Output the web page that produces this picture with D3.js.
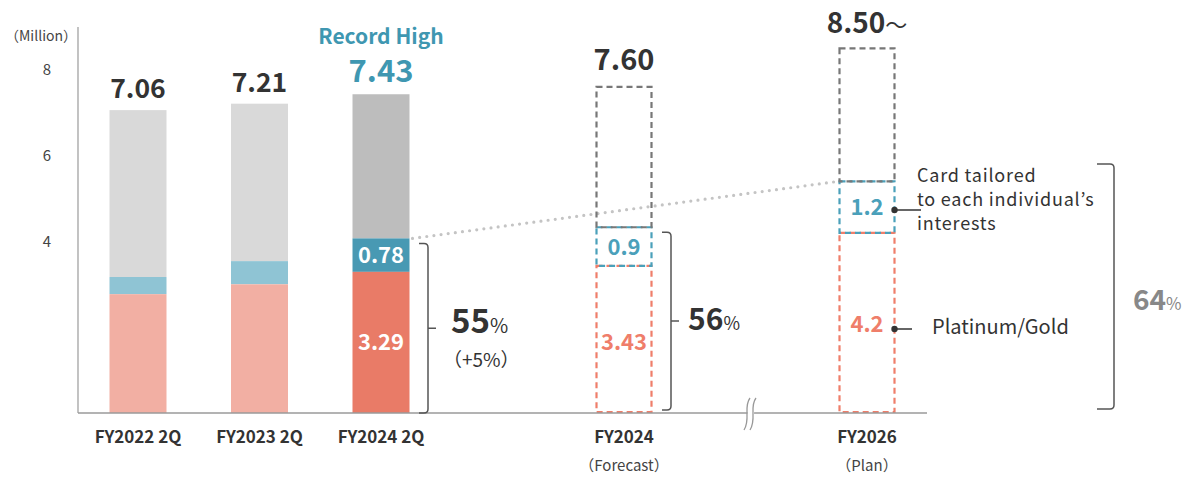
<!DOCTYPE html>
<html>
<head>
<meta charset="utf-8">
<script src="https://cdn.jsdelivr.net/npm/d3@7"></script>
<style>
  html, body { margin: 0; padding: 0; background: #fff; }
  svg { display: block; font-family: "Noto Sans CJK JP", "Noto Sans", sans-serif; }
</style>
</head>
<body>
<svg id="chart" width="1195" height="478"></svg>
<script>
// ---- data (millions of cards) ----
const categories   = ["FY2022 2Q", "FY2023 2Q", "FY2024 2Q", "FY2024", "FY2026"];
const subLabels    = ["", "", "", "（Forecast）", "（Plan）"];
const slotKeys     = ["FY2022 2Q", "FY2023 2Q", "FY2024 2Q", "gapA", "FY2024", "gapB", "FY2026"];
const totals       = [7.06, 7.21, 7.43, 7.60, 8.50];
const totalLabels  = ["7.06", "7.21", "7.43", "7.60", "8.50"];
const totalSuffix  = ["", "", "", "", "～"];
const platinumGold = [2.77, 3.00, 3.29, 3.43, 4.2];
const tailored     = [0.40, 0.54, 0.78, 0.9, 1.2];
const segLabels    = [null, null, ["3.29", "0.78"], ["3.43", "0.9"], ["4.2", "1.2"]];
const plannedFlags = [false, false, false, true, true];
const yTicks       = [4, 6, 8];
const shareLabels  = [{ idx: 2, main: "55", sub: "（+5%）" }, { idx: 3, main: "56", sub: null }, { idx: 4, main: "64", sub: null }];

const svg = d3.select("#chart");

const x = d3.scalePoint().domain(slotKeys).range([138, 867]);
const y = d3.scaleLinear().domain([0, 8]).range([413, 69.8]);
const barW = 57;
const baseY = y(0);

const C = {
  text: "#333333",
  axis: "#9a9a9a",
  teal: "#3f97b1",
  greyPast: "#d9d9d9", bluePast: "#8fc4d4", pinkPast: "#f2afa3",
  greyNow: "#bdbdbd", blueNow: "#4899b3", pinkNow: "#e97b67",
  greyDash: "#777777", blueDash: "#4aa0ba", pinkDash: "#ef7e6a"
};

// ---- axis ----
svg.append("line").attr("x1", 78).attr("x2", 78).attr("y1", 27).attr("y2", baseY)
  .attr("stroke", C.axis).attr("stroke-width", 1.2);

const yAxis = svg.append("g").attr("transform", "translate(51,0)")
  .call(d3.axisLeft(y).tickValues(yTicks).tickSize(0).tickPadding(0));
yAxis.select(".domain").remove();
yAxis.selectAll("text").attr("font-size", 15).attr("fill", "#444")
  .attr("font-family", "'Noto Sans CJK JP', sans-serif");

svg.append("text").attr("x", 5).attr("y", 41).attr("font-size", 14).attr("fill", "#444")
  .text("（Million）");

// ---- solid bars (actuals) ----
categories.forEach((c, i) => {
  if (plannedFlags[i]) return;
  const cx = x(c), x0 = cx - barW / 2;
  const recent = i === 2;
  const pg = platinumGold[i], tl = tailored[i], tot = totals[i];
  svg.append("rect").attr("x", x0).attr("width", barW)
    .attr("y", y(tot)).attr("height", y(pg + tl) - y(tot))
    .attr("fill", recent ? C.greyNow : C.greyPast);
  svg.append("rect").attr("x", x0).attr("width", barW)
    .attr("y", y(pg + tl)).attr("height", y(pg) - y(pg + tl))
    .attr("fill", recent ? C.blueNow : C.bluePast);
  svg.append("rect").attr("x", x0).attr("width", barW)
    .attr("y", y(pg)).attr("height", baseY - y(pg))
    .attr("fill", recent ? C.pinkNow : C.pinkPast);
});

// ---- dotted growth line linking the tailored segments ----
svg.append("line")
  .attr("x1", x("FY2024 2Q") + barW / 2 + 3).attr("y1", y(platinumGold[2] + tailored[2]))
  .attr("x2", x("FY2026") - barW / 2).attr("y2", y(platinumGold[4] + tailored[4]))
  .attr("stroke", "#c4c4c4").attr("stroke-width", 3.2).attr("stroke-linecap", "round")
  .attr("stroke-dasharray", "0,7.2");

// ---- dashed bars (forecast / plan) ----
categories.forEach((c, i) => {
  if (!plannedFlags[i]) return;
  const cx = x(c), x0 = cx - barW / 2;
  const pg = platinumGold[i], tl = tailored[i], tot = totals[i];
  const dashed = (yTop, yBot, col) => svg.append("rect")
    .attr("x", x0 + 1).attr("width", barW - 2)
    .attr("y", yTop).attr("height", yBot - yTop)
    .attr("fill", "none").attr("stroke", col).attr("stroke-width", 2.2)
    .attr("stroke-dasharray", "6,4");
  dashed(y(pg), baseY - 1, C.pinkDash);
  dashed(y(pg + tl), y(pg), C.blueDash);
  dashed(y(tot), y(pg + tl), C.greyDash);
});

// ---- baseline with axis break ----
svg.append("line").attr("x1", 78).attr("x2", 927).attr("y1", baseY).attr("y2", baseY)
  .attr("stroke", C.axis).attr("stroke-width", 1.3);
const breakX = 750;
const wave = dx => `M${breakX + dx + 3},${baseY - 15} C${breakX + dx - 4},${baseY - 6} ${breakX + dx + 4},${baseY + 6} ${breakX + dx - 3},${baseY + 17}`;
svg.append("path")
  .attr("d", `M${breakX - 1},${baseY - 15} L${breakX + 5},${baseY - 15} L${breakX + 3},${baseY + 17} L${breakX - 4},${baseY + 17} Z`)
  .attr("fill", "#fff");
[-3, 3].forEach(dx => svg.append("path").attr("d", wave(dx))
  .attr("fill", "none").attr("stroke", "#999").attr("stroke-width", 1.3));

// ---- value labels above bars ----
categories.forEach((c, i) => {
  const cx = x(c);
  const gap = i === 4 ? 15 : (i === 3 ? 17 : 12);
  const isRecord = i === 2;
  const size = isRecord ? 31 : (i === 4 ? 28 : (plannedFlags[i] ? 29 : 26.5));
  const t = svg.append("text").attr("x", cx).attr("y", y(totals[i]) - gap)
    .attr("text-anchor", "middle").attr("font-weight", 700)
    .attr("font-size", size)
    .attr("fill", isRecord ? C.teal : C.text);
  t.append("tspan").text(totalLabels[i]);
  if (totalSuffix[i]) t.append("tspan").attr("font-size", 22).attr("font-weight", 400).text(totalSuffix[i]);
  if (isRecord) {
    svg.append("text").attr("x", cx).attr("y", 44).attr("text-anchor", "middle")
      .attr("font-weight", 700).attr("font-size", 21).attr("fill", C.teal).text("Record High");
  }
});

// ---- segment labels ----
categories.forEach((c, i) => {
  const lab = segLabels[i];
  if (!lab) return;
  const cx = x(c);
  const pg = platinumGold[i], tl = tailored[i];
  const solid = !plannedFlags[i];
  const pgY = solid ? (y(pg) + baseY) / 2 + 8 : (i === 3 ? 350 : 332);
  svg.append("text").attr("x", cx).attr("y", pgY).attr("text-anchor", "middle")
    .attr("font-size", 22).attr("font-weight", 700)
    .attr("fill", solid ? "#fff" : C.pinkDash).text(lab[0]);
  svg.append("text").attr("x", cx).attr("y", (y(pg) + y(pg + tl)) / 2 + 8)
    .attr("text-anchor", "middle").attr("font-size", 22).attr("font-weight", 700)
    .attr("fill", solid ? "#fff" : C.blueDash).text(lab[1]);
});

// ---- category labels ----
categories.forEach((c, i) => {
  svg.append("text").attr("x", x(c)).attr("y", 443).attr("text-anchor", "middle")
    .attr("font-size", 17).attr("font-weight", 700).attr("fill", C.text).text(c);
  if (subLabels[i]) {
    svg.append("text").attr("x", x(c)).attr("y", 471).attr("text-anchor", "middle")
      .attr("font-size", 15).attr("fill", "#444").text(subLabels[i]);
  }
});

// ---- share brackets ----
function bracket(xL, xR, yTop, yBot, tickLen) {
  const r = 4, yMid = (yTop + yBot) / 2;
  let d = `M${xL},${yTop} L${xR - r},${yTop} Q${xR},${yTop} ${xR},${yTop + r} L${xR},${yBot - r} Q${xR},${yBot} ${xR - r},${yBot} L${xL},${yBot}`;
  if (tickLen) d += ` M${xR},${yMid} L${xR + tickLen},${yMid}`;
  svg.append("path").attr("d", d).attr("fill", "none").attr("stroke", "#555").attr("stroke-width", 1.5);
}
bracket(419, 428, y(platinumGold[2] + tailored[2]) + 5, baseY, 8);
bracket(662, 671, y(platinumGold[3] + tailored[3]) + 5, baseY - 3, 8);
bracket(1097, 1114, 164, 409, 0);

function share(xs, yb, main, col, size) {
  const t = svg.append("text").attr("x", xs).attr("y", yb).attr("fill", col).attr("font-weight", 700);
  t.append("tspan").attr("font-size", size).text(main);
  t.append("tspan").attr("font-size", size * 0.6).attr("font-weight", 400).text("%");
}
share(451, 333, shareLabels[0].main, C.text, 33);
svg.append("text").attr("x", 443).attr("y", 367).attr("font-size", 19).attr("fill", C.text)
  .text(shareLabels[0].sub);
share(688, 330, shareLabels[1].main, C.text, 30);
share(1133, 310, shareLabels[2].main, "#888", 28);

// ---- legend callouts on the plan bar ----
const planRight = x("FY2026") + barW / 2 - 1;
const pgPlanY = 329, tlPlanY = 210;
[[tlPlanY, 921], [pgPlanY, 912]].forEach(([yy, x2]) => {
  svg.append("line").attr("x1", planRight).attr("x2", x2).attr("y1", yy).attr("y2", yy)
    .attr("stroke", "#333").attr("stroke-width", 1.5);
  svg.append("circle").attr("cx", planRight).attr("cy", yy).attr("r", 3.2).attr("fill", "#333");
});
const card = svg.append("text").attr("x", 917).attr("font-size", 18)
  .attr("letter-spacing", 0.8).attr("fill", C.text);
["Card tailored", "to each individual’s", "interests"].forEach((s, k) =>
  card.append("tspan").attr("x", 917).attr("y", 182 + k * 24).text(s));
svg.append("text").attr("x", 932).attr("y", 334).attr("font-size", 20).attr("fill", C.text)
  .text("Platinum/Gold");
</script>
</body>
</html>
